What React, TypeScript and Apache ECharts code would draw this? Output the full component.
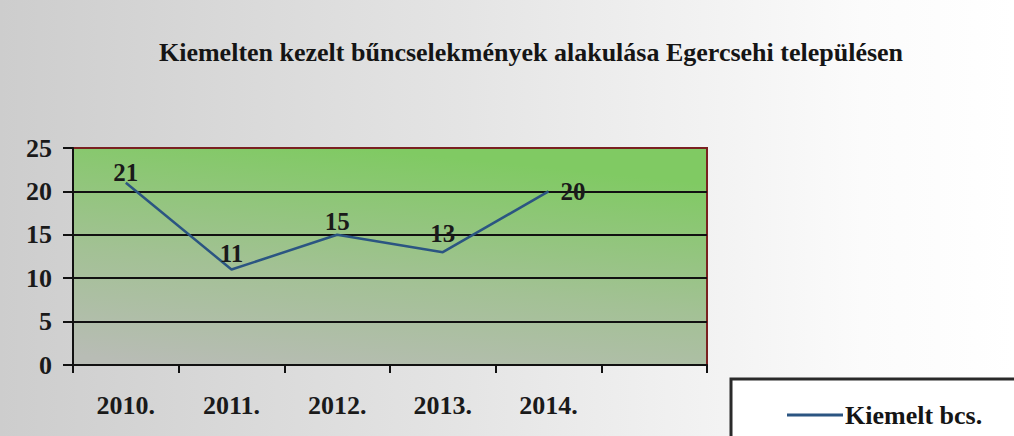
import React, { useEffect, useRef } from "react";
import * as echarts from "echarts";

const titleText = "Kiemelten kezelt bűncselekmények alakulása Egercsehi településen";
const categories = ["2010.", "2011.", "2012.", "2013.", "2014.", ""];
const values: (number | null)[] = [21, 11, 15, 13, 20, null];
const labelPositions = ["top", "top", "top", "top", "right", "top"];
const labelDistances = [-2, 4, 1, 6, 12, 0];
const seriesName = "Kiemelt bcs.";

const FONT = "'Liberation Serif', 'Times New Roman', serif";

export default function App() {
  const ref = useRef<HTMLDivElement>(null);
  useEffect(() => {
    if (!ref.current) return;
    const chart = echarts.init(ref.current, undefined, { renderer: "svg" });
    const data = values.map((v, i) => ({
      value: v,
      label: {
        position: labelPositions[i],
        distance: labelDistances[i],
      },
    }));
    chart.setOption({
      animation: false,
      backgroundColor: new echarts.graphic.LinearGradient(0, 0, 1, 0, [
        { offset: 0, color: "#cdcdcd" },
        { offset: 0.45, color: "#e4e4e4" },
        { offset: 0.85, color: "#fbfbfb" },
        { offset: 1, color: "#ffffff" },
      ]),
      title: {
        text: titleText,
        left: 526,
        top: 34,
        textAlign: "center",
        textStyle: {
          fontFamily: FONT,
          fontWeight: "bold",
          fontSize: 26,
          color: "#151515",
        },
      },
      legend: {
        left: 782,
        top: 397,
        icon: "rect",
        itemWidth: 56,
        itemHeight: 3,
        itemGap: 6,
        data: [seriesName],
        textStyle: {
          fontFamily: FONT,
          fontWeight: "bold",
          fontSize: 26,
          color: "#151515",
          padding: [0, 0, 0, -3],
        },
      },
      graphic: [
        {
          type: "rect",
          shape: { x: 731, y: 379, width: 300, height: 80 },
          style: { fill: "#ffffff", stroke: "#2a2a2a", lineWidth: 3 },
          z: -1,
        },
      ],
      grid: {
        left: 73,
        right: 307,
        top: 148,
        bottom: 71,
        show: true,
        borderColor: "#7a2020",
        borderWidth: 2,
        backgroundColor: new echarts.graphic.LinearGradient(0.15, 1, 0.45, 0, [
          { offset: 0, color: "#b8bcb5" },
          { offset: 0.45, color: "#a3c195" },
          { offset: 1, color: "#80ca63" },
        ]),
      },
      xAxis: {
        type: "category",
        data: categories,
        boundaryGap: true,
        axisLine: { show: true, lineStyle: { color: "#111", width: 2 } },
        axisTick: { show: true, length: 8, interval: 0, lineStyle: { color: "#111", width: 2 } },
        axisLabel: {
          margin: 27,
          interval: 0,
          fontFamily: FONT,
          fontWeight: "bold",
          fontSize: 26,
          color: "#1a1a1a",
        },
        splitLine: { show: false },
      },
      yAxis: {
        type: "value",
        min: 0,
        max: 25,
        interval: 5,
        axisLine: { show: true, lineStyle: { color: "#111", width: 2 } },
        axisTick: { show: true, length: 10, lineStyle: { color: "#111", width: 2 } },
        axisLabel: {
          margin: 21,
          fontFamily: FONT,
          fontWeight: "bold",
          fontSize: 26,
          color: "#1a1a1a",
        },
        splitLine: {
          show: true,
          lineStyle: {
            color: ["#111", "#111", "#111", "#111", "#111", "#7a2020"],
            width: 2,
          },
        },
      },
      series: [
        {
          name: seriesName,
          type: "line",
          data,
          symbol: "circle",
          symbolSize: 0,
          showSymbol: true,
          itemStyle: { color: "#2b5582" },
          lineStyle: { color: "#2b5582", width: 2.5 },
          label: {
            show: true,
            fontFamily: FONT,
            fontWeight: "bold",
            fontSize: 25,
            color: "#1a1a1a",
          },
        },
      ],
    });
    return () => chart.dispose();
  }, []);
  return (
    <div
      ref={ref}
      style={{ position: "absolute", left: 0, top: 0, width: 1014, height: 436 }}
    />
  );
}
